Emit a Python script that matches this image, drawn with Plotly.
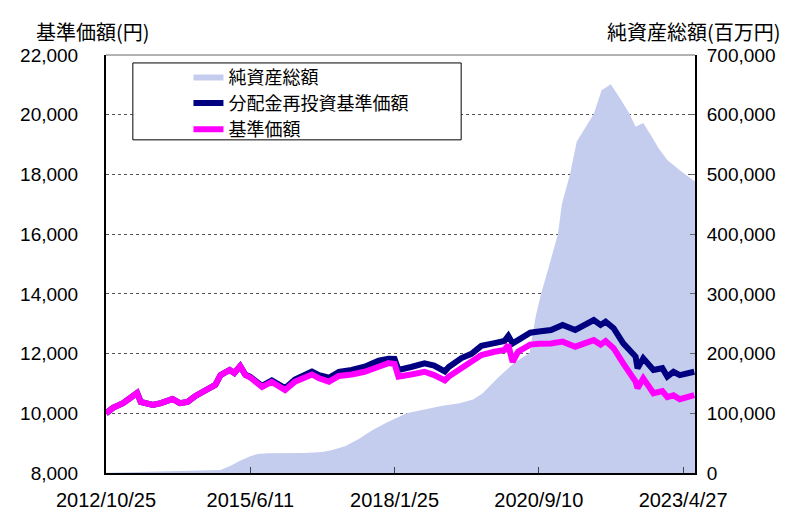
import plotly.graph_objects as go

# 基準価額 / 分配金再投資基準価額 (円)
nav_dates = [
    "2012-10-25", "2012-12-10", "2013-02-15", "2013-04-05", "2013-05-20", "2013-06-13",
    "2013-09-01", "2013-10-25", "2014-01-10", "2014-02-28", "2014-04-20", "2014-06-12",
    "2014-09-12", "2014-10-22", "2014-11-25", "2015-01-25", "2015-02-25", "2015-04-05",
    "2015-05-10", "2015-06-11", "2015-08-28", "2015-11-01", "2016-01-28", "2016-04-03",
    "2016-07-25", "2016-09-10", "2016-11-15", "2017-01-20", "2017-04-15", "2017-07-10",
    "2017-10-12", "2017-12-15", "2018-01-25", "2018-02-20", "2018-05-15", "2018-08-12",
    "2018-10-15", "2018-12-25", "2019-01-20", "2019-04-15", "2019-06-20", "2019-08-25",
    "2019-11-20", "2020-01-25", "2020-02-20", "2020-03-20", "2020-04-25", "2020-07-15",
    "2020-09-10", "2020-11-30", "2021-02-15", "2021-05-10", "2021-09-10", "2021-10-25",
    "2021-11-28", "2022-01-20", "2022-03-25", "2022-06-15", "2022-06-28", "2022-08-05",
    "2022-10-12", "2022-12-10", "2023-01-12", "2023-02-22", "2023-04-05", "2023-07-10",
]
nav = [
    10000, 10180, 10340, 10510, 10680, 10380,
    10280, 10340, 10480, 10340, 10380, 10580,
    10810, 10950, 11280, 11450, 11350, 11580,
    11280, 11200, 10880, 11050, 10780, 11060,
    11300, 11170, 11060, 11250, 11300, 11390,
    11560, 11680, 11650, 11230, 11300, 11390,
    11280, 11100, 11230, 11510, 11700, 11950,
    12060, 12120, 12290, 11720, 12060, 12300,
    12330, 12340, 12400, 12230, 12450, 12300,
    12420, 12180, 11670, 11060, 10840, 11170,
    10670, 10740, 10540, 10600, 10470, 10610,
]
nav_reinv = [
    10000, 10180, 10340, 10510, 10680, 10380,
    10280, 10340, 10480, 10340, 10380, 10580,
    10810, 10950, 11280, 11450, 11350, 11580,
    11290, 11220, 10920, 11100, 10840, 11130,
    11400, 11280, 11190, 11390, 11450, 11560,
    11760, 11830, 11820, 11450, 11550, 11670,
    11600, 11400, 11550, 11850, 11990, 12260,
    12350, 12420, 12590, 12340, 12450, 12700,
    12740, 12790, 12960, 12790, 13120, 12960,
    13070, 12850, 12340, 11900, 11510, 11840,
    11450, 11510, 11230, 11390, 11280, 11390,
]

# 純資産総額 (百万円)
aum_dates = [
    "2012-10-25", "2013-05-20", "2013-12-01", "2014-06-01", "2014-11-25", "2015-02-01",
    "2015-04-01", "2015-06-11", "2015-08-01", "2015-10-01", "2016-06-01", "2016-10-01",
    "2016-12-01", "2017-03-01", "2017-06-01", "2017-09-01", "2017-12-01", "2018-04-15",
    "2018-08-01", "2018-12-01", "2019-04-01", "2019-07-01", "2019-09-01", "2019-12-20",
    "2020-04-01", "2020-07-10", "2020-08-20", "2020-09-25", "2020-11-15", "2021-01-15",
    "2021-02-10", "2021-04-05", "2021-05-20", "2021-09-10", "2021-11-01", "2022-01-01",
    "2022-02-25", "2022-05-05", "2022-06-15", "2022-08-05", "2022-10-01", "2022-11-15",
    "2023-01-12", "2023-04-05", "2023-07-15",
]
aum = [
    300, 1500, 2500, 3500, 5000, 12000,
    20000, 28000, 32000, 33000, 33500, 35000,
    38000, 45000, 57000, 72000, 84000, 100000,
    106000, 112000, 117000, 123000, 133000, 161000,
    185000, 201000, 262000, 300000, 345000, 400000,
    450000, 500000, 555000, 601000, 641000, 651000,
    630000, 602000, 580000, 586000, 563000, 544000,
    524000, 507000, 488000,
]

tick_dates = ["2012-10-25", "2015-06-11", "2018-01-25", "2020-09-10", "2023-04-27"]
tick_text = ["2012/10/25", "2015/6/11", "2018/1/25", "2020/9/10", "2023/4/27"]

FONT = "Liberation Sans, Arial, Noto Sans CJK JP"
CJK = "Noto Sans CJK JP"

fig = go.Figure()
fig.add_trace(go.Scatter(
    x=aum_dates, y=aum, name="純資産総額", mode="lines", fill="tozeroy",
    line=dict(width=0, color="#c5cdef"), fillcolor="#c5cdef", yaxis="y",
))
fig.add_trace(go.Scatter(
    x=nav_dates, y=nav_reinv, name="分配金再投資基準価額", mode="lines",
    line=dict(width=6, color="#000080"), yaxis="y2",
))
fig.add_trace(go.Scatter(
    x=nav_dates, y=nav, name="基準価額", mode="lines",
    line=dict(width=6, color="#ff00ff"), yaxis="y2",
))

# page body has an 8px margin, so the figure is 8px smaller and shifted
fig.update_layout(
    width=782, height=521,
    margin=dict(l=95, r=95, t=47, b=56),
    paper_bgcolor="white", plot_bgcolor="white",
    font=dict(family=FONT, size=19, color="black"),
    showlegend=True,
    legend=dict(
        x=0.14, y=0.992, xanchor="left", yanchor="top",
        bgcolor="rgba(0,0,0,0)", borderwidth=0,
        font=dict(size=18, family=CJK), tracegroupgap=0,
    ),
    xaxis=dict(
        type="date", range=["2012-10-25", "2023-07-15"],
        tickvals=tick_dates, ticktext=tick_text,
        ticks="inside", ticklen=6, tickcolor="#444",
        showline=True, linecolor="black", linewidth=2,
        showgrid=False, tickfont=dict(size=20), ticklabelstandoff=8,
    ),
    yaxis=dict(
        side="right", range=[0, 700000], dtick=100000, tickformat=",",
        showline=True, linecolor="black", linewidth=2,
        ticks="inside", ticklen=5, tickcolor="#666",
        showgrid=True, gridcolor="#555", griddash="dot", gridwidth=1,
        zeroline=False, ticklabelstandoff=6,
    ),
    yaxis2=dict(
        overlaying="y", side="left", range=[8000, 22000], dtick=2000, tickformat=",",
        showline=True, linecolor="black", linewidth=2,
        showgrid=False, zeroline=False, ticklabelstandoff=22,
    ),
    shapes=[
        dict(type="rect", xref="paper", yref="paper",
             x0=0.0456, x1=0.603, y0=0.797, y1=0.981,
             fillcolor="white", line=dict(color="black", width=1), layer="above"),
        dict(type="line", xref="paper", yref="paper",
             x0=0, x1=1, y0=1, y1=1, line=dict(color="#666", width=1)),
    ],
    annotations=[
        dict(text="基準価額(円)", xref="paper", yref="paper", x=-0.123, y=1.057,
             xanchor="left", yanchor="middle", showarrow=False,
             font=dict(size=20, family=CJK)),
        dict(text="純資産総額(百万円)", xref="paper", yref="paper", x=1.149, y=1.057,
             xanchor="right", yanchor="middle", showarrow=False,
             font=dict(size=20, family=CJK)),
    ],
)

fig.write_html("out.html")
